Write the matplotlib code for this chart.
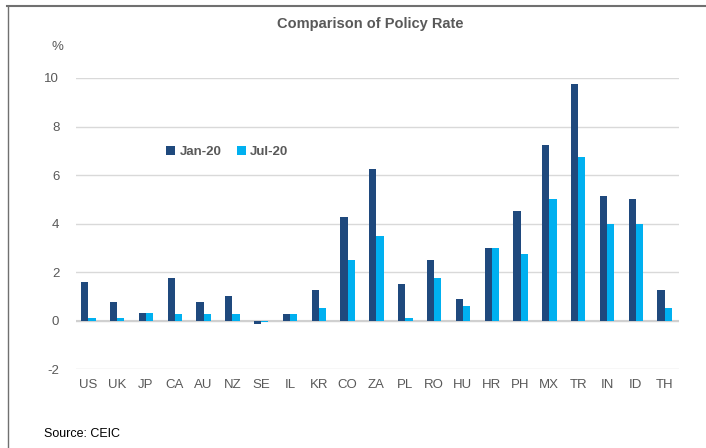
import matplotlib
matplotlib.use("Agg")
import matplotlib.pyplot as plt
from matplotlib.lines import Line2D
import numpy as np

plt.rcParams['font.family'] = ['Liberation Sans', 'DejaVu Sans']

countries = ["US", "UK", "JP", "CA", "AU", "NZ", "SE", "IL", "KR", "CO", "ZA",
             "PL", "RO", "HU", "HR", "PH", "MX", "TR", "IN", "ID", "TH"]
jan20 = [1.6, 0.75, 0.3, 1.75, 0.75, 1.0, -0.15, 0.25, 1.25, 4.25, 6.25,
         1.5, 2.5, 0.9, 3.0, 4.5, 7.25, 9.75, 5.15, 5.0, 1.25]
jul20 = [0.1, 0.1, 0.3, 0.25, 0.25, 0.25, -0.07, 0.25, 0.5, 2.5, 3.5,
         0.1, 1.75, 0.6, 3.0, 2.75, 5.0, 6.75, 4.0, 4.0, 0.5]
yticks = [-2, 0, 2, 4, 6, 8, 10]

dark = '#1F497D'
light = '#00B0F0'
grey = '#595959'

fig = plt.figure(figsize=(7.06, 4.48), dpi=100)
ax = fig.add_axes([0.1076, 0.1763, 0.8542, 0.6496])

x = np.arange(len(countries))
w = 0.25
ax.bar(x - w / 2, jan20, width=w, color=dark, label='Jan-20', zorder=3)
ax.bar(x + w / 2, jul20, width=w, color=light, label='Jul-20', zorder=3)

ax.set_ylim(-2, 10)
ax.set_xlim(-0.43, 20.5)
ax.set_yticks(yticks)
ax.set_yticklabels([str(t) for t in yticks])
ax.set_xticks(x)
ax.set_xticklabels(countries)
ax.tick_params(axis='both', length=0, labelsize=9.5, colors=grey)
ax.tick_params(axis='x', pad=7)
ax.tick_params(axis='y', pad=12)
for s in ax.spines.values():
    s.set_visible(False)
ax.grid(axis='y', color='#D9D9D9', linewidth=1, zorder=0)
ax.axhline(0, color='#D0D0D0', linewidth=1.5, zorder=2)

fig.text(0.524, 0.947, "Comparison of Policy Rate", ha='center', va='center',
         fontsize=10.5, fontweight='bold', color=grey)
fig.text(0.081, 0.895, "%", ha='center', va='center', fontsize=9.5, color=grey)
fig.text(0.062, 0.031, "Source: CEIC", ha='left', va='center', fontsize=9,
         color='black', family=['Liberation Sans Narrow', 'Liberation Sans'])

ax.legend(loc='center left', bbox_to_anchor=(0.13, 0.745), ncol=2, frameon=False,
          handlelength=0.7, handleheight=0.7, handletextpad=0.3,
          columnspacing=1.2, labelcolor=grey, prop={'weight': 'bold', 'size': 9.5})

# frame lines of the original picture
fig.add_artist(Line2D([0.010, 1.0], [0.986, 0.986], color='#707070', linewidth=1.5))
fig.add_artist(Line2D([0.011, 0.011], [0.0, 0.986], color='#707070', linewidth=1.0))

fig.savefig("out.png", dpi=100)
